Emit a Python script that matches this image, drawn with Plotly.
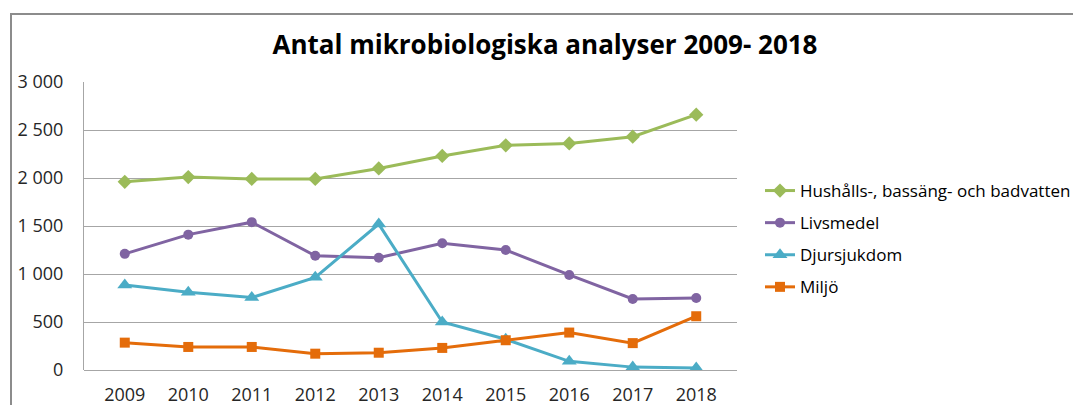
import plotly.graph_objects as go

years = ["2009", "2010", "2011", "2012", "2013", "2014", "2015", "2016", "2017", "2018"]
hushall = [1960, 2010, 1990, 1990, 2100, 2230, 2340, 2360, 2430, 2660]
livsmedel = [1210, 1410, 1540, 1190, 1170, 1320, 1250, 990, 740, 750]
djursjukdom = [885, 810, 755, 965, 1520, 500, 320, 90, 30, 20]
miljo = [285, 240, 240, 170, 180, 230, 310, 390, 280, 560]

series_names = ["Hushålls-, bassäng- och badvatten", "Livsmedel", "Djursjukdom", "Miljö"]
tick_vals = [0, 500, 1000, 1500, 2000, 2500, 3000]
tick_text = ["0", "500", "1 000", "1 500", "2 000", "2 500", "3 000"]

colors = ["#9BBB59", "#8064A2", "#4BACC6", "#E46C0A"]
symbols = ["diamond", "circle", "triangle-up", "square"]
sizes = [11, 10, 13, 10]

# page has an 8px body margin: figure occupies page x 8..1081, y 8..405
W, H = 1073, 397
L, T = 76, 74
R = W - (737 - 8)
B = H - (370 - 8)

fig = go.Figure()
for i, (name, vals) in enumerate(zip(series_names, [hushall, livsmedel, djursjukdom, miljo])):
    fig.add_trace(go.Scatter(
        x=years, y=vals, name=name, mode="lines+markers",
        line=dict(color=colors[i], width=3),
        marker=dict(symbol=symbols[i], size=sizes[i], color=colors[i]),
        legendgroup=f"g{i}",
    ))

pw = W - L - R
ph = H - T - B

fig.update_layout(
    width=W, height=H,
    margin=dict(l=L, r=R, t=T, b=B, autoexpand=False),
    paper_bgcolor="white", plot_bgcolor="white",
    font=dict(family="Open Sans, sans-serif", size=16, color="#262626"),
    title=dict(text="<b>Antal mikrobiologiska analyser 2009- 2018</b>",
               x=(545 - 8) / W, xanchor="center", y=1 - (45 - 8) / H, yanchor="middle",
               font=dict(size=26, color="#000000")),
    showlegend=True,
    legend=dict(x=(760 - 84) / pw, xanchor="left", y=(370 - 173) / ph, yanchor="top",
                font=dict(size=17, color="#000000"), tracegroupgap=7,
                bgcolor="rgba(0,0,0,0)"),
    xaxis=dict(type="category", showgrid=False, showline=False, ticks="",
               ticklabelstandoff=12, automargin=False,
               tickfont=dict(size=18, color="#262626")),
    yaxis=dict(range=[0, 3000], tickvals=tick_vals, ticktext=tick_text,
               showgrid=True, gridcolor="#A6A6A6", gridwidth=1,
               zeroline=True, zerolinecolor="#A6A6A6", zerolinewidth=1,
               showline=True, linecolor="#A6A6A6", linewidth=1,
               ticks="", ticklabelstandoff=16, automargin=False,
               tickfont=dict(size=18, color="#262626")),
    shapes=[dict(type="rect", xref="paper", yref="paper",
                 x0=(11 - 84) / pw, x1=2.0, y0=-1.0, y1=(370 - 14) / ph,
                 line=dict(color="#8C8C8C", width=2), fillcolor="rgba(0,0,0,0)",
                 layer="below")],
)

fig.write_html("out.html")
